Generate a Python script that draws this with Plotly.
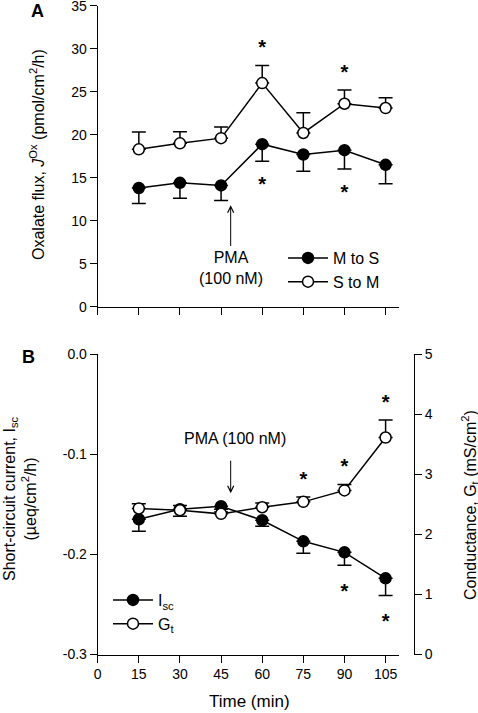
import plotly.graph_objects as go

# ---------------- data ----------------
time_min = [15, 30, 45, 60, 75, 90, 105]

# Panel A: oxalate flux (pmol/cm2/h)
m_to_s = [13.8, 14.4, 14.1, 18.9, 17.7, 18.2, 16.5]
m_to_s_sem = [1.8, 1.8, 1.75, 2.0, 1.95, 2.2, 2.2]
s_to_m = [18.3, 19.0, 19.6, 26.0, 20.2, 23.6, 23.1]
s_to_m_sem = [2.0, 1.35, 1.3, 2.05, 2.35, 1.6, 1.2]
m_to_s_sig = [False, False, False, True, False, True, False]
s_to_m_sig = [False, False, False, True, False, True, False]

# Panel B: short-circuit current (ueq/cm2/h) and conductance (mS/cm2)
isc = [-0.165, -0.155, -0.152, -0.166, -0.187, -0.198, -0.224]
isc_sem = [0.012, 0.007, 0.003, 0.006, 0.012, 0.013, 0.017]
gt = [2.43, 2.40, 2.34, 2.45, 2.54, 2.73, 3.61]
gt_sem = [0.08, 0.08, 0.03, 0.07, 0.08, 0.10, 0.29]
isc_sig = [False, False, False, False, False, True, True]
gt_sig = [False, False, False, False, True, True, True]

x_ticks = [0, 15, 30, 45, 60, 75, 90, 105]
yA_ticks = [0, 5, 10, 15, 20, 25, 30, 35]
yB_ticks = [-0.3, -0.2, -0.1, 0.0]
yB_ticklabels = ["-0.3", "-0.2", "-0.1", "0.0"]
yC_ticks = [0, 1, 2, 3, 4, 5]

pma_time = 48.5
# ---------------------------------------

FONT = "Arial, Liberation Sans, sans-serif"
BLACK = "black"
W, H = 478, 713

def px(x):
    return x / W

def py(y):
    return 1 - y / H

fig = go.Figure()

def series(x, y, err, up, filled, name, xa, ya, legend):
    fig.add_trace(go.Scatter(
        x=x, y=y, mode="lines+markers", name=name,
        xaxis=xa, yaxis=ya, legend=legend,
        line=dict(color=BLACK, width=1.5),
        marker=dict(size=11, color=BLACK if filled else "white",
                    line=dict(color=BLACK, width=1.5)),
        error_y=dict(type="data", symmetric=False,
                     array=err if up else [0] * len(err),
                     arrayminus=[0] * len(err) if up else err,
                     color=BLACK, thickness=1.5, width=7),
        cliponaxis=False,
    ))

def stars(x, y, err, sig, up, off, xa, ya):
    xs, ys = [], []
    for xi, yi, ei, si in zip(x, y, err, sig):
        if si:
            xs.append(xi)
            ys.append(yi + ei + off if up else yi - ei - off)
    fig.add_trace(go.Scatter(
        x=xs, y=ys, mode="text", text=["<b>*</b>"] * len(xs), showlegend=False,
        xaxis=xa, yaxis=ya, textposition="middle center",
        textfont=dict(family=FONT, size=20, color=BLACK),
        cliponaxis=False, hoverinfo="skip"))

# Panel A
series(time_min, m_to_s, m_to_s_sem, False, True, "M to S", "x", "y", "legend")
series(time_min, s_to_m, s_to_m_sem, True, False, "S to M", "x", "y", "legend")
stars(time_min, s_to_m, s_to_m_sem, s_to_m_sig, True, 1.9, "x", "y")
stars(time_min, m_to_s, m_to_s_sem, m_to_s_sig, False, 2.9, "x", "y")

# Panel B
series(time_min, isc, isc_sem, False, True, "I<sub>sc</sub>", "x2", "y2", "legend2")
series(time_min, gt, gt_sem, True, False, "G<sub>t</sub>", "x2", "y3", "legend2")
stars(time_min, gt, gt_sem, gt_sig, True, 0.27, "x2", "y3")
stars(time_min, isc, isc_sem, isc_sig, False, 0.028, "x2", "y2")

XDOM = [px(97.7), px(399.3)]
axis_common = dict(showgrid=False, zeroline=False, showline=True, linecolor=BLACK,
                   linewidth=1, ticks="outside", ticklen=7, tickwidth=1,
                   tickcolor=BLACK, automargin=False, ticklabeloverflow="allow",
                   tickfont=dict(family=FONT, size=14, color=BLACK))

fig.update_layout(
    template="none",
    width=W, height=H,
    margin=dict(l=0, r=0, t=0, b=0, autoexpand=False),
    paper_bgcolor="white", plot_bgcolor="white",
    font=dict(family=FONT, size=14, color=BLACK),
    xaxis=dict(domain=XDOM, range=[0, 110], anchor="y", tickvals=x_ticks,
               showticklabels=False, **axis_common),
    yaxis=dict(domain=[py(306.7), py(5.7)], range=[0, 35],
               anchor="x", tickvals=yA_ticks, **axis_common),
    xaxis2=dict(domain=XDOM, range=[0, 110], anchor="y2", tickvals=x_ticks,
                **axis_common),
    yaxis2=dict(domain=[py(654.5), py(354)], range=[-0.3, 0],
                anchor="x2", tickvals=yB_ticks, ticktext=yB_ticklabels, **axis_common),
    yaxis3=dict(range=[0, 5], overlaying="y2", side="right", anchor="free",
                position=px(414), tickvals=yC_ticks, **axis_common),
    legend=dict(x=px(283), y=py(241), xanchor="left", yanchor="top",
                bgcolor="rgba(0,0,0,0)", font=dict(family=FONT, size=16),
                tracegroupgap=0, borderwidth=0, itemwidth=40),
    legend2=dict(x=px(108), y=py(583), xanchor="left", yanchor="top",
                 bgcolor="rgba(0,0,0,0)", font=dict(family=FONT, size=16),
                 tracegroupgap=0, borderwidth=0, itemwidth=40),
    showlegend=True,
)

def pann(text, x, y, size, angle=0):
    return dict(text=text, x=px(x), y=py(y), xref="paper", yref="paper",
                xanchor="center", yanchor="middle", textangle=angle,
                showarrow=False, font=dict(size=size))

ann = [
    pann("<b>A</b>", 37, 11, 18),
    pann("<b>B</b>", 28, 357, 18),
    pann("Oxalate flux, <i>J</i><sup>Ox</sup> (pmol/cm<sup>2</sup>/h)", 37, 155, 16, -90),
    pann("Short-circuit current, I<sub>sc</sub><br>(µeq/cm<sup>2</sup>/h)", 20, 499, 16, -90),
    pann("Conductance, G<sub>t</sub> (mS/cm<sup>2</sup>)", 470, 505, 16, -90),
    pann("Time (min)", 249, 701, 17),
]
# PMA arrows
ann.append(dict(text="", x=pma_time, y=11.8, ax=pma_time, ay=7.0, xref="x", yref="y",
                axref="x", ayref="y", showarrow=True, arrowhead=5, arrowsize=1.2,
                arrowwidth=1, arrowcolor=BLACK, borderpad=0))
ann.append(dict(text="PMA<br>(100 nM)", x=pma_time, y=4.5, xref="x", yref="y",
                xanchor="center", yanchor="middle",
                showarrow=False, font=dict(size=16)))
ann.append(dict(text="", x=pma_time, y=-0.139, ax=pma_time, ay=-0.106, xref="x2",
                yref="y2", axref="x2", ayref="y2", showarrow=True, arrowhead=5,
                arrowsize=1.2, arrowwidth=1, arrowcolor=BLACK, borderpad=0))
ann.append(dict(text="PMA (100 nM)", x=pma_time + 1.5, y=-0.084, xref="x2", yref="y2",
                xanchor="center", yanchor="middle",
                showarrow=False, font=dict(size=16)))
fig.update_layout(annotations=ann)

fig.write_html("out.html", config={"displayModeBar": False},
               post_script="document.body.style.margin='0';document.body.style.overflow='hidden';")
